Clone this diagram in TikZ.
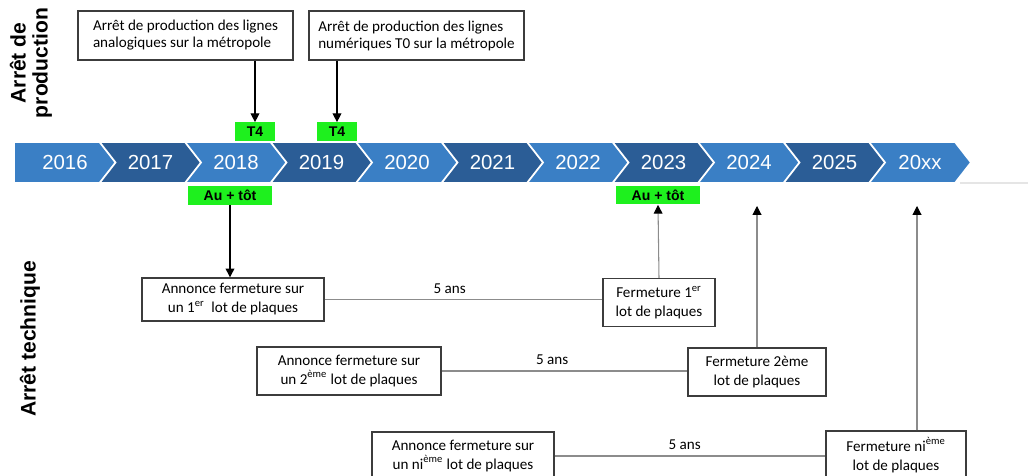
\documentclass[tikz,border=0pt]{standalone}
\usepackage{fontspec}
\setmainfont{Carlito}
\newfontfamily\arialfont{Liberation Sans}
\usetikzlibrary{calc,arrows.meta}

\definecolor{bandlight}{RGB}{58,127,197}
\definecolor{banddark}{RGB}{43,93,150}
\definecolor{flashgreen}{RGB}{30,240,30}
\definecolor{boxline}{RGB}{60,60,60}
\definecolor{thinline}{RGB}{140,140,140}

\tikzset{
  year/.style={text=white, font=\arialfont\fontsize{11.6}{13}\selectfont},
  sidelabel/.style={rotate=90, align=center, font=\arialfont\bfseries\fontsize{12}{12.5}\selectfont},
  topbox/.style={draw=boxline, line width=0.7pt, align=left, minimum width=4.3cm,
    minimum height=0.98cm, inner sep=0pt, font=\fontsize{8.6}{9.7}\selectfont},
  lowbox/.style={draw=boxline, line width=0.8pt, align=center, inner sep=0pt,
    minimum height=0.96cm, font=\fontsize{8.6}{10.8}\selectfont},
  greentag/.style={fill=flashgreen, inner sep=0pt, minimum height=0.38cm,
    font=\arialfont\bfseries\fontsize{8}{9}\selectfont},
  downarrow/.style={line width=0.7pt, -{Triangle[length=5pt,width=5pt]}},
  uparrow/.style={draw=thinline, line width=0.6pt, -{Triangle[length=5pt,width=5pt,color=black]}},
  span/.style={draw=thinline, line width=0.6pt}
}

\begin{document}
\begin{tikzpicture}[x=0.02cm, y=-0.02cm]
\useasboundingbox (0,0) rectangle (1028,476);
\clip (0,0) rectangle (1028,476);
% side titles
\node[sidelabel] (lblprod) at (31,63) {Arrêt de\\production};
\node[sidelabel] (lbltech) at (30,339) {Arrêt technique};
% time band
\draw[black!10, line width=0.6pt] (960,183) -- (1028,183);
\foreach \yr [count=\i from 0] in {2016,2017,2018,2019,2020,2021,2022,2023,2024,2025,20xx}{
  \pgfmathsetmacro{\xa}{14+85.5*\i}
  \pgfmathsetmacro{\notch}{\i==0 ? 0 : 16}
  \def\segcol{bandlight}
  \ifodd\i \def\segcol{banddark}\fi
  \filldraw[fill=\segcol, draw=white, line width=1pt] (\xa,142) -- ++(86,0) -- ++(16,20.5)
    -- ++(-16,20.5) -- ++(-86,0) -- ++(\notch,-20.5) -- cycle;
  \node[year] (y\yr) at (\xa+51,162.5) {\yr};
}
% production stop
\node[topbox] (prodA) at (185.5,35.5) {Arrêt de production des lignes\\analogiques sur la métropole};
\node[topbox] (prodB) at (416.5,35.5) {Arrêt de production des lignes\\numériques T0 sur la métropole};
\node[greentag, minimum width=0.8cm] (t4a) at (255,132) {T4};
\node[greentag, minimum width=0.8cm] (t4b) at (337,132) {T4};
\draw[downarrow] (prodA.south -| t4a.north) -- (t4a.north);
\draw[downarrow] (prodB.south -| t4b.north) -- (t4b.north);
% technical stop
\node[greentag, minimum width=1.68cm] (tot1) at (230,195.5) {Au + tôt};
\node[greentag, minimum width=1.68cm] (tot2) at (658,195) {Au + tôt};
\node[lowbox, minimum width=3.64cm, minimum height=0.86cm] (ann1) at (233,299.5)
  {Annonce fermeture sur\\un 1\textsuperscript{er}\ \ lot de plaques};
\node[lowbox, minimum width=2.24cm] (fer1) at (659,302.5) {Fermeture 1\textsuperscript{er}\\lot de plaques};
\node[lowbox, minimum width=3.68cm] (ann2) at (349,371)
  {Annonce fermeture sur\\un 2\textsuperscript{ème} lot de plaques};
\node[lowbox, minimum width=2.76cm] (fer2) at (757,372) {Fermeture 2ème\\lot de plaques};
\node[lowbox, minimum width=3.64cm] (ann3) at (463,456)
  {Annonce fermeture sur\\un ni\textsuperscript{ème} lot de plaques};
\node[lowbox, minimum width=2.8cm] (ferN) at (896,455) {Fermeture ni\textsuperscript{ème}\\lot de plaques};
\coordinate (reach2024) at (756,206);
\coordinate (reachN) at (917,206);
\draw[downarrow] (tot1.south) -- (tot1.south |- ann1.north);
\draw[span] (ann1.east) -- node[above, pos=0.45, font=\fontsize{8.6}{10}\selectfont] {5 ans} (ann1.east -| fer1.west);
\draw[span] (ann2.east) -- node[above, pos=0.45, font=\fontsize{8.6}{10}\selectfont] {5 ans} (ann2.east -| fer2.west);
\draw[span] (ann3.east) -- node[above, pos=0.48, font=\fontsize{8.6}{10}\selectfont] {5 ans} (ann3.east -| ferN.west);
\draw[uparrow] (fer1.north) -- (tot2.south);
\draw[uparrow] (fer2.north) -- (fer2.north |- reach2024);
\draw[uparrow] (reachN |- ferN.north) -- (reachN);
\end{tikzpicture}
\end{document}
